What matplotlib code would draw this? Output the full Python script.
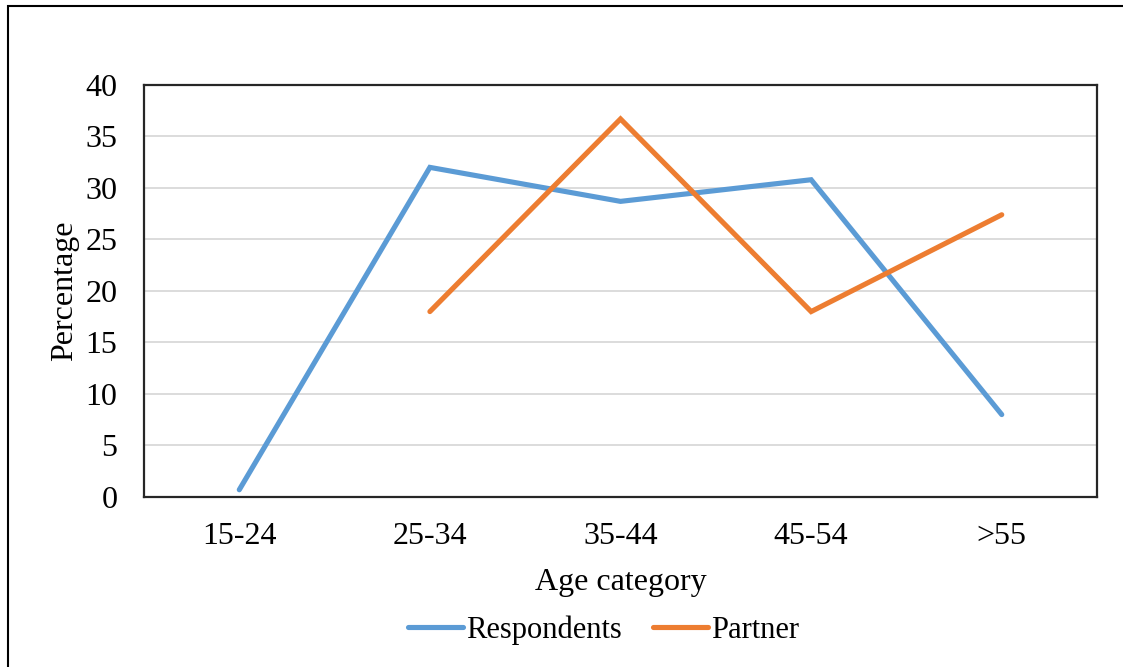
import matplotlib.pyplot as plt
from matplotlib.patches import Rectangle

categories = ["15-24", "25-34", "35-44", "45-54", ">55"]
respondents = [0.7, 32.0, 28.7, 30.8, 8.0]
partner = [None, 18.0, 36.7, 18.0, 27.4]

plt.rcParams["font.family"] = ["Liberation Serif", "DejaVu Serif"]

fig = plt.figure(figsize=(11.23, 6.67), dpi=100)
ax = fig.add_axes([0.1282, 0.2549, 0.8487, 0.6177])

x = list(range(len(categories)))
px = [i for i, v in zip(x, partner) if v is not None]
pv = [v for v in partner if v is not None]

ax.plot(x, respondents, color="#5B9BD5", lw=3.7, solid_capstyle="round",
        solid_joinstyle="miter", label="Respondents")
ax.plot(px, pv, color="#ED7D31", lw=3.7, solid_capstyle="round",
        solid_joinstyle="miter", label="Partner")

ax.set_xlim(-0.5, len(categories) - 0.5)
ax.set_ylim(0, 40)
ax.set_yticks(range(0, 41, 5))
ax.set_xticks(x)
ax.set_xticklabels(categories)
ax.tick_params(axis="both", length=0, labelsize=23)
ax.tick_params(axis="y", pad=19)
ax.tick_params(axis="x", pad=18)
ax.grid(axis="y", color="#D9D9D9", lw=1.3)
ax.set_axisbelow(True)
for s in ax.spines.values():
    s.set_color("#262626")
    s.set_linewidth(1.6)

ax.set_xlabel("Age category", fontsize=23, labelpad=12)
ax.set_ylabel("Percentage", fontsize=23, labelpad=5)

ax.legend(loc="center", bbox_to_anchor=(0.482, -0.323), ncol=2,
          frameon=False, fontsize=22, handlelength=1.8, handletextpad=0.1,
          columnspacing=1.0)

# outer frame around the chart
fig.patches.append(Rectangle((8 / 1123, -0.05), 1.2, 1 - 6 / 667 + 0.05,
                             transform=fig.transFigure, fill=False,
                             edgecolor="black", lw=1.5))

fig.savefig("out.png", dpi=100)
